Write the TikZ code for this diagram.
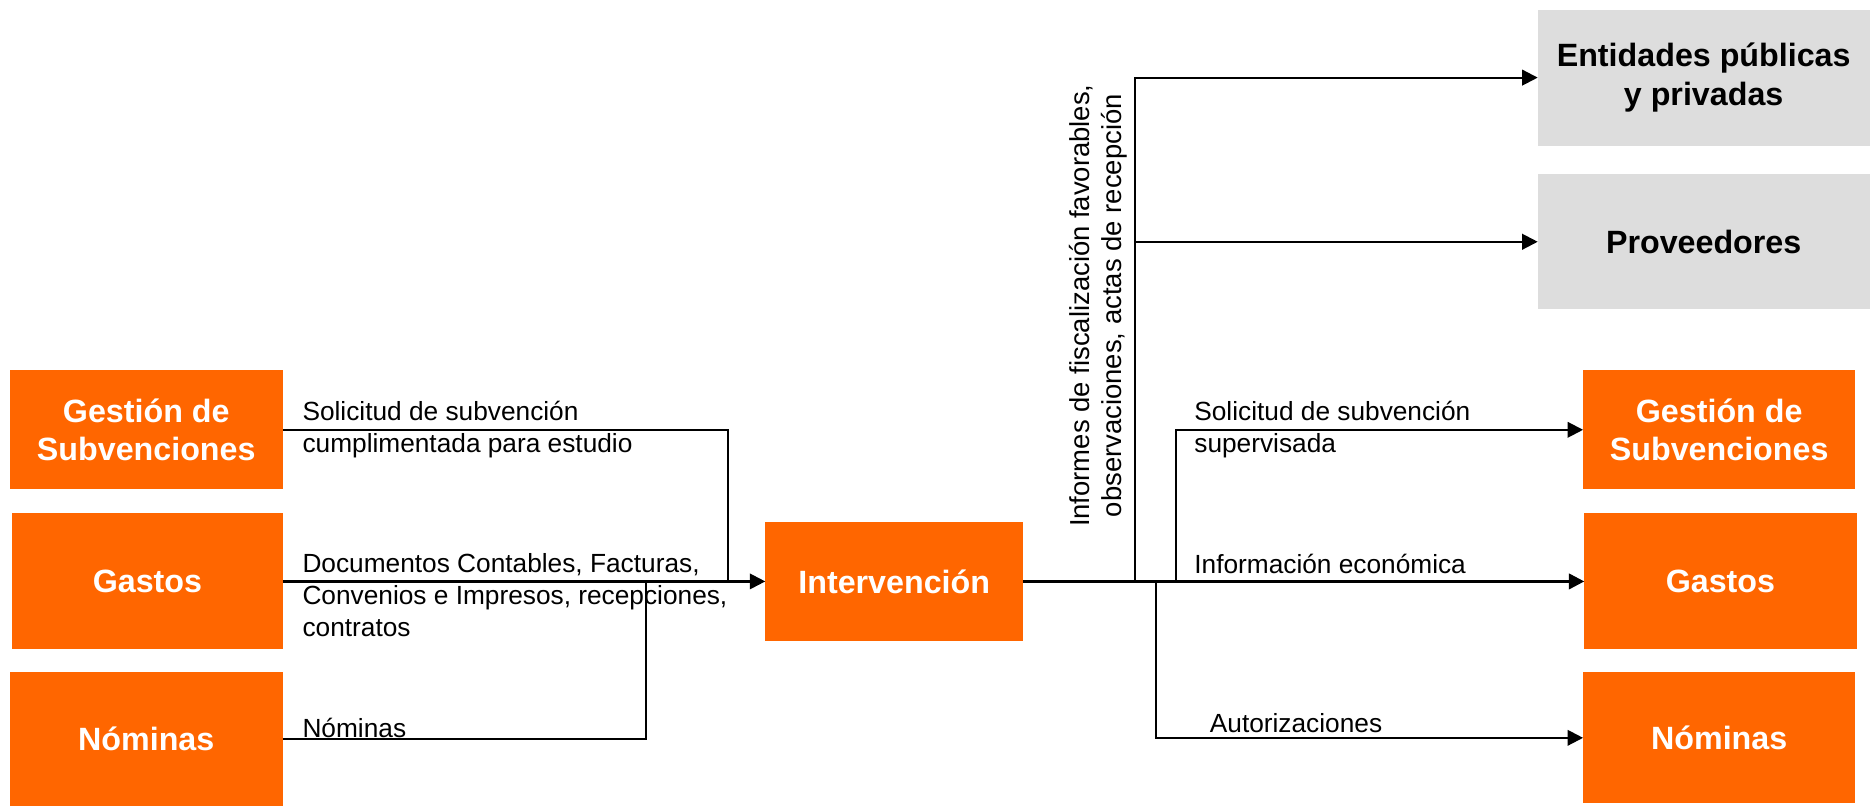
\documentclass[tikz,border=0pt]{standalone}
\usepackage{fontspec}
\setmainfont{Liberation Sans}
\usetikzlibrary{arrows.meta}
\usetikzlibrary{positioning}
\definecolor{orangefill}{HTML}{FF6600}
\definecolor{grayfill}{HTML}{DDDDDD}
\tikzset{
    orangebox/.style = {rectangle, draw=none, fill=orangefill, text=white, align=center, inner sep=0pt, outer sep=0pt, font=\fontsize{13.5}{16}\selectfont\bfseries},
    graybox/.style = {rectangle, draw=none, fill=grayfill, text=black, align=center, inner sep=0pt, outer sep=0pt, font=\fontsize{13.5}{16}\selectfont\bfseries},
    edgen/.style = {line width=0.9pt},
    edgea/.style = {-{Triangle[length=6.5pt,width=6.5pt]},line width=0.9pt},
    lbl/.style = {anchor=west, align=left, inner sep=0pt, font=\fontsize{11}{13.5}\selectfont}
}
\begin{document}
\begin{tikzpicture}[x=0.5pt,y=-0.5pt]
\fill[white] (0,0) rectangle (1568,675);
\useasboundingbox (0,0) rectangle (1568,675);
%
\node[orangebox, minimum width=114.5pt, minimum height=50pt] at (122.5,360) (gsl) {Gestión de\\Subvenciones};
\node[orangebox, minimum width=113.5pt, minimum height=57pt] at (123.5,487) (gal) {Gastos};
\node[orangebox, minimum width=114.5pt, minimum height=56pt] at (122.5,619) (nol) {Nóminas};
\node[orangebox, minimum width=108pt, minimum height=50pt] at (749,487) (inter) {Intervención};
\node[graybox, minimum width=139pt, minimum height=57pt] at (1427,65) (ent) {Entidades públicas\\y privadas};
\node[graybox, minimum width=139pt, minimum height=56.5pt] at (1427,202.5) (prov) {Proveedores};
\node[orangebox, minimum width=114pt, minimum height=50pt] at (1440,360) (gsr) {Gestión de\\Subvenciones};
\node[orangebox, minimum width=114pt, minimum height=57pt] at (1441,487) (gar) {Gastos};
\node[orangebox, minimum width=114pt, minimum height=55pt] at (1440,618) (nor) {Nóminas};
%
\coordinate (jgs) at (610,487);
\coordinate (jno) at (541,487);
\coordinate (jup) at (951,487);
\coordinate (jsub) at (985,487);
\coordinate (jdown) at (968,487);
%
\draw[edgen] (gsl.east) -| (jgs);
\draw[edgea] (gal.east) -- (inter.west);
\draw[edgen] (nol.east) -| (jno);
\draw[edgea,line width=1.2pt] (inter.east) -- (gar.west);
\draw[edgea] (jup) |- (ent.west);
\draw[edgea] (jup |- prov.west) -- (prov.west);
\draw[edgea] (jsub) |- (gsr.west);
\draw[edgea] (jdown) |- (nor.west);
%
\node[lbl] at (253,360) (lgs) {Solicitud de subvención\\cumplimentada para estudio};
\node[lbl] at (253,498.5) (lga) {Documentos Contables, Facturas,\\Convenios e Impresos, recepciones,\\contratos};
\node[lbl] at (253,610) (lno) {Nóminas};
\node[lbl, anchor=center, align=center, rotate=90, font=\fontsize{11.5}{13.5}\selectfont] at (920,256) (linf) {Informes de fiscalización favorables,\\observaciones, actas de recepción};
\node[lbl] at (1000,360) (lsup) {Solicitud de subvención\\supervisada};
\node[lbl] at (1000,472) (leco) {Información económica};
\node[lbl] at (1013,606) (laut) {Autorizaciones};
\end{tikzpicture}
\end{document}
